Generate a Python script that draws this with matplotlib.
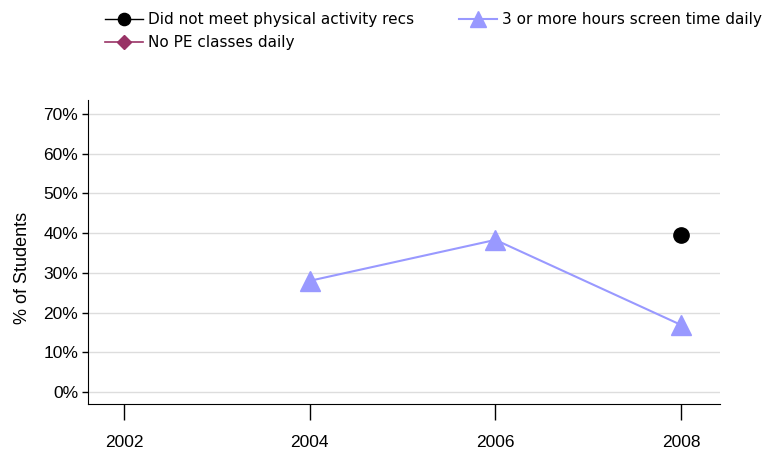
import numpy as np
import matplotlib.pyplot as plt
from matplotlib.ticker import FuncFormatter

# data
years = [2002, 2004, 2006, 2008]
activity_years = [2008]
activity_pct = [39.5]
pe_years = []
pe_pct = []
screen_years = [2004, 2006, 2008]
screen_pct = [28.0, 38.3, 16.9]
y_ticks = [0, 10, 20, 30, 40, 50, 60, 70]

fig = plt.figure(figsize=(7.72, 4.55), dpi=100)
ax = fig.add_axes([88 / 772, 1 - 404 / 455, 632 / 772, 304 / 455])

ax.plot(activity_years, activity_pct, color='black', marker='o', markersize=11,
        linewidth=1, label='Did not meet physical activity recs', zorder=3)
ax.plot(pe_years, pe_pct, color='#993366', marker='D', markersize=9,
        linewidth=1.2, label='No PE classes daily', zorder=3)
ax.plot(screen_years, screen_pct, color='#9999FF', marker='^', markersize=14,
        linewidth=1.5, label='3 or more hours screen time daily', zorder=3)

ax.set_xlim(2001.61, 2008.42)
ax.set_ylim(-3, 73.5)
ax.set_xticks(years)
ax.set_yticks(y_ticks)
ax.yaxis.set_major_formatter(FuncFormatter(lambda v, p: f'{int(v)}%'))

for s in ['top', 'right']:
    ax.spines[s].set_visible(False)
ax.grid(axis='y', color='#dddddd', linewidth=1)
ax.set_axisbelow(True)

ax.tick_params(axis='x', direction='out', length=11.5, width=1, pad=11,
               labelsize=12.5)
ax.tick_params(axis='y', direction='out', length=4, width=1, labelsize=12.5,
               pad=3)
for lab in ax.get_xticklabels() + ax.get_yticklabels():
    lab.set_family('Liberation Sans')

ax.set_ylabel('% of Students', fontsize=13, family='Liberation Sans')
ax.yaxis.set_label_coords(-0.09, 0.447)

# legend: two columns at the top of the figure
handles, labels = ax.get_legend_handles_labels()
fig.legend(handles, labels, ncol=2, loc='upper left',
           bbox_to_anchor=(105 / 772, 1 - 12 / 455),
           frameon=False, fontsize=11, handlelength=2.5, borderpad=0,
           borderaxespad=0, handletextpad=0.33, columnspacing=2.9,
           labelspacing=0.55, markerscale=0.8)

fig.savefig('out.png', dpi=100)
